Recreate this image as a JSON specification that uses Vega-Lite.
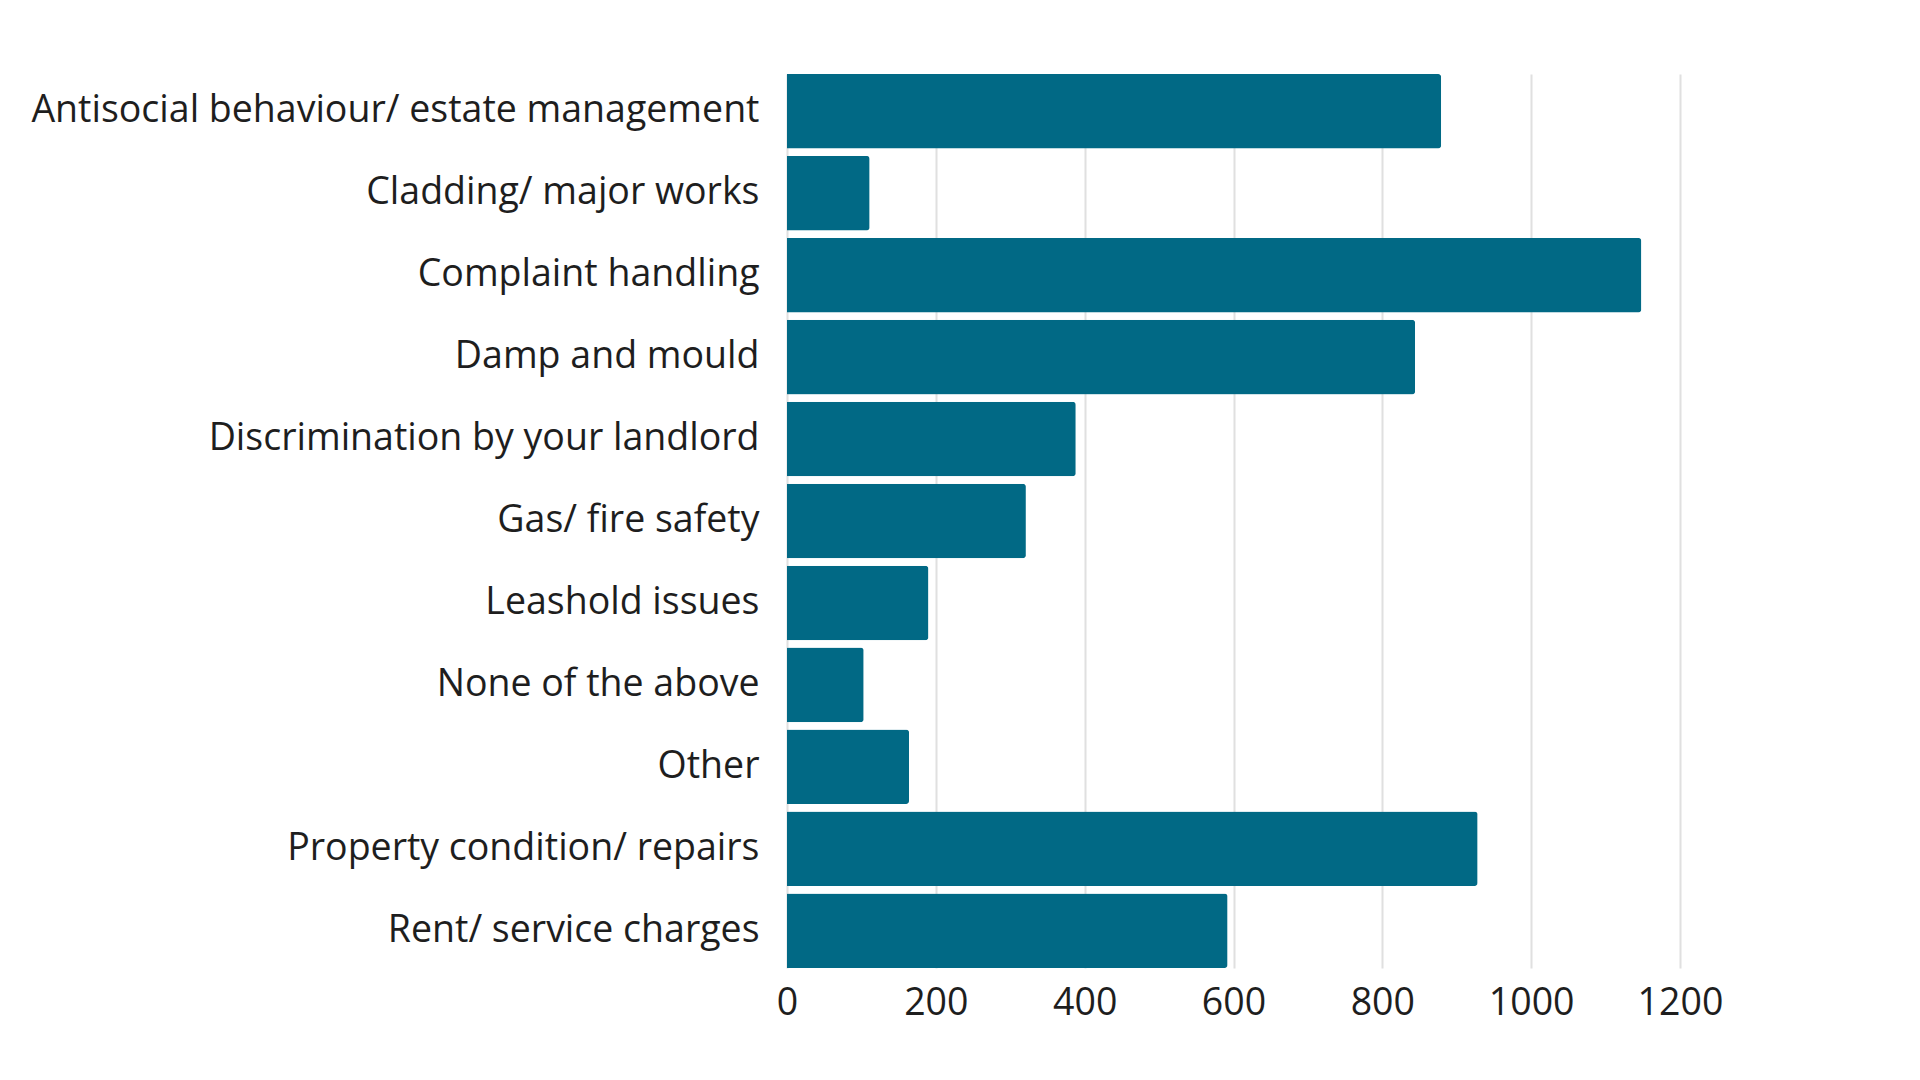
{
  "$schema": "https://vega.github.io/schema/vega-lite/v6.json",
  "autosize": {"type": "none"},
  "padding": {"left": 787, "top": 74, "right": 240, "bottom": 112},
  "width": 893,
  "height": 894,
  "background": "white",
  "data": {
    "values": [
      {"category": "Antisocial behaviour/ estate management", "count": 879},
      {"category": "Cladding/ major works", "count": 111},
      {"category": "Complaint handling", "count": 1148},
      {"category": "Damp and mould", "count": 844},
      {"category": "Discrimination by your landlord", "count": 388},
      {"category": "Gas/ fire safety", "count": 321},
      {"category": "Leashold issues", "count": 190},
      {"category": "None of the above", "count": 103},
      {"category": "Other", "count": 164},
      {"category": "Property condition/ repairs", "count": 928},
      {"category": "Rent/ service charges", "count": 592}
    ]
  },
  "mark": {"type": "bar", "color": "#016985", "cornerRadiusEnd": 3},
  "encoding": {
    "y": {
      "field": "category",
      "type": "nominal",
      "sort": null,
      "title": null,
      "scale": {"paddingInner": 0.09, "paddingOuter": 0.0},
      "axis": {
        "ticks": false,
        "domain": false,
        "grid": false,
        "labelFont": "Open Sans",
        "labelFontSize": 37.5,
        "labelColor": "#1e1e1e",
        "labelPadding": 28,
        "labelLimit": 1000
      }
    },
    "x": {
      "field": "count",
      "type": "quantitative",
      "title": null,
      "scale": {"domain": [0, 1200], "nice": false},
      "axis": {
        "values": [0, 200, 400, 600, 800, 1000, 1200],
        "format": "d",
        "ticks": false,
        "domain": false,
        "grid": true,
        "gridColor": "#e0e0e0",
        "gridWidth": 2,
        "labelFont": "Open Sans",
        "labelFontSize": 37.5,
        "labelColor": "#1e1e1e",
        "labelPadding": 16,
        "labelFlush": false
      }
    }
  },
  "config": {"view": {"stroke": null}}
}
